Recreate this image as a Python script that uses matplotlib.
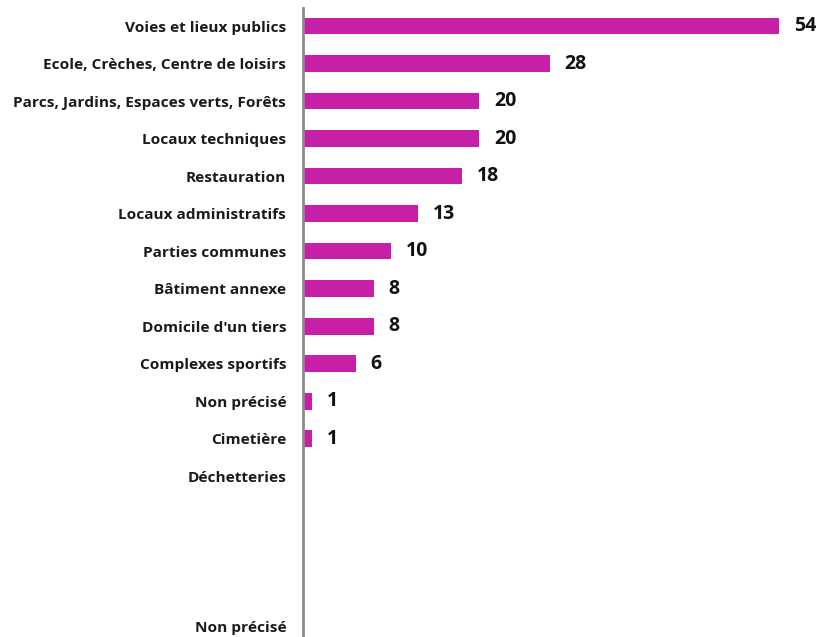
import matplotlib.pyplot as plt

# Données (de haut en bas)
categories = ['Voies et lieux publics', 'Ecole, Crèches, Centre de loisirs',
              'Parcs, Jardins, Espaces verts, Forêts', 'Locaux techniques',
              'Restauration', 'Locaux administratifs', 'Parties communes',
              'Bâtiment annexe', "Domicile d'un tiers", 'Complexes sportifs',
              'Non précisé', 'Cimetière', 'Déchetteries', '', '', '', 'Non précisé']
valeurs = [54, 28, 20, 20, 18, 13, 10, 8, 8, 6, 1, 1, 0, 0, 0, 0, 0]

couleur = '#C71FA5'
police = 'Open Sans'

fig = plt.figure(figsize=(8.23, 6.37), dpi=100)
ax = fig.add_axes([303 / 823, 0, 520 / 823, 629 / 637])

pos = list(range(len(categories)))
ax.barh(pos, valeurs, height=0.45, color=couleur)

# Etiquettes de valeurs
for p, v in zip(pos, valeurs):
    if v > 0:
        ax.text(v + 1.7, p, str(v), va='center', ha='left', fontsize=14,
                fontweight='bold', family=police, color='#111111')

ax.set_yticks(pos)
ax.set_yticklabels(categories, fontsize=11.1, fontweight='bold', family=police,
                   color='#1a1a1a')
ax.tick_params(axis='y', length=0, pad=12)
ax.set_xticks([])
ax.set_xlim(0, 59)
ax.set_ylim(16.29, -0.48)

for s in ['top', 'right', 'bottom']:
    ax.spines[s].set_visible(False)
ax.spines['left'].set_color('#8c8c8c')
ax.spines['left'].set_linewidth(2)

fig.savefig('out.png', dpi=100)
